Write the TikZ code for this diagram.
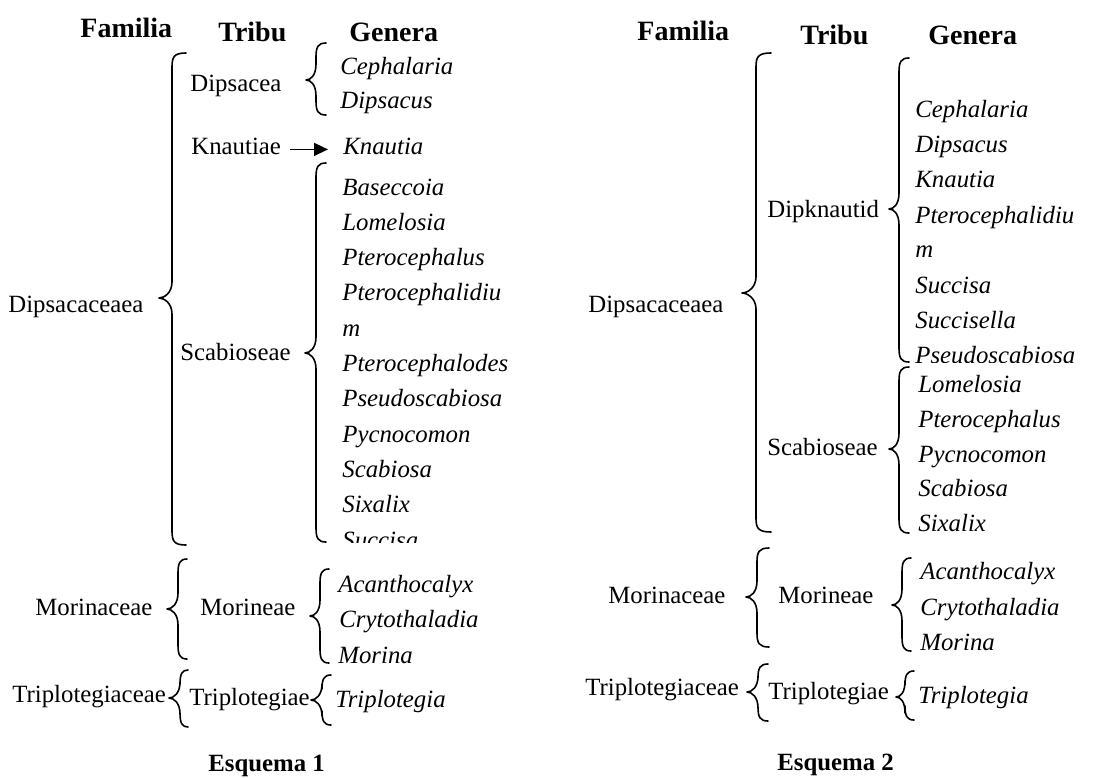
\documentclass[tikz,border=0pt]{standalone}
\usepackage{fontspec}
\setmainfont{Liberation Serif}
\usetikzlibrary{arrows.meta}
\tikzset{
  lbl/.style={inner sep=0pt, anchor=base west, font=\fontsize{12.4}{15}\selectfont},
  gen/.style={inner sep=0pt, anchor=base west, font=\fontsize{12.4}{15}\selectfont\itshape},
  hdr/.style={inner sep=0pt, anchor=base west, font=\fontsize{14}{17}\selectfont\bfseries},
  captionlbl/.style={inner sep=0pt, anchor=base west, font=\fontsize{12.4}{15}\selectfont\bfseries},
  bracestyle/.style={draw=black, line width=0.8pt, line cap=round, line join=round},
  arr/.style={draw=black, line width=0.8pt, -{Triangle[length=7pt,width=6.5pt]}}
}
% xe xv xt yt ym yb
\newcommand\mybrace[6]{%
  \draw[bracestyle] (#1,#4) .. controls (#2+2,#4) and (#2,#4+4) .. (#2,#4+14) -- (#2,#5-16)
    .. controls (#2,#5-5) and (#3+5,#5) .. (#3,#5) .. controls (#3+5,#5) and (#2,#5+5) .. (#2,#5+16)
    -- (#2,#6-14) .. controls (#2,#6-4) and (#2+2,#6) .. (#1,#6);}
\begin{document}
\begin{tikzpicture}[x=0.5pt,y=-0.5pt]
\useasboundingbox (0,0) rectangle (1103,777);
% ---------------- Esquema 1 ----------------
\node[hdr] (famL) at (80,37) {Familia};
\node[hdr] (triL) at (218,41) {Tribu};
\node[hdr] (genL) at (349,41) {Genera};

\node[lbl] (dipsacaceaeaL) at (8,312) {Dipsacaceaea};
\node[lbl] (dipsacea) at (190,91) {Dipsacea};
\node[lbl] (knautiae) at (191,154) {Knautiae};
\node[lbl] (scabL) at (180,360) {Scabioseae};
\node[lbl] (morinaceaeL) at (35,615) {Morinaceae};
\node[lbl] (morineaeL) at (200,615) {Morineae};
\node[lbl] (triplotegiaceaeL) at (12,702) {Triplotegiaceae};
\node[lbl] (triplotegiaeL) at (189,705) {Triplotegiae};

\node[gen] (cephL) at (340,74) {Cephalaria};
\node[gen] (dipsL) at (340,108) {Dipsacus};
\node[gen] (knautiaL) at (343,154) {Knautia};
\node[gen] (g1) at (342,195) {Baseccoia};
\node[gen] (g2) at (342,230.3) {Lomelosia};
\node[gen] (g3) at (342,265.6) {Pterocephalus};
\node[gen] (g4) at (342,300.9) {Pterocephalidiu};
\node[gen] (g5) at (342,336.2) {m};
\node[gen] (g6) at (342,371.5) {Pterocephalodes};
\node[gen] (g7) at (342,406.8) {Pseudoscabiosa};
\node[gen] (g8) at (342,442.1) {Pycnocomon};
\node[gen] (g9) at (342,477.4) {Scabiosa};
\node[gen] (g10) at (342,512.7) {Sixalix};
\begin{scope}
  \clip (330,520) rectangle (540,542);
  \node[gen] (g11) at (342,548) {Succisa};
\end{scope}
\node[gen] (acL) at (338,592) {Acanthocalyx};
\node[gen] (crL) at (339,627) {Crytothaladia};
\node[gen] (moL) at (338,663) {Morina};
\node[gen] (trL) at (335,707) {Triplotegia};
\node[captionlbl] (esq1) at (208,771) {Esquema 1};

\draw[arr, shorten <=4.5pt, shorten >=7.5pt] (knautiae.mid east) -- (knautiaL.mid west);

\mybrace{186}{172}{159}{53}{298}{545}
\mybrace{326}{316}{306}{43}{80}{115}
\mybrace{326}{316}{305}{163}{353}{542}
\mybrace{187}{178}{167}{559}{609}{659}
\mybrace{329}{320}{310}{569}{616}{663}
\mybrace{188}{180}{169}{670}{698}{727}
\mybrace{331}{322}{311}{675}{700}{725}

% ---------------- Esquema 2 ----------------
\node[hdr] (famR) at (637,40) {Familia};
\node[hdr] (triR) at (800,44) {Tribu};
\node[hdr] (genR) at (928,44) {Genera};

\node[lbl] (dipsacaceaeaR) at (588,312) {Dipsacaceaea};
\node[lbl] (dipknautid) at (767,217) {Dipknautid};
\node[lbl] (scabR) at (767,455) {Scabioseae};
\node[lbl] (morinaceaeR) at (608,603) {Morinaceae};
\node[lbl] (morineaeR) at (778,603) {Morineae};
\node[lbl] (triplotegiaceaeR) at (585,695) {Triplotegiaceae};
\node[lbl] (triplotegiaeR) at (768,699) {Triplotegiae};

\node[gen] (h1) at (915,117) {Cephalaria};
\node[gen] (h2) at (915,152) {Dipsacus};
\node[gen] (h3) at (915,187) {Knautia};
\node[gen] (h4) at (915,223) {Pterocephalidiu};
\node[gen] (h5) at (915,257) {m};
\node[gen] (h6) at (915,293) {Succisa};
\node[gen] (h7) at (915,328) {Succisella};
\begin{scope}
  \clip (905,335) rectangle (1103,362);
  \node[gen] (h8) at (915,363) {Pseudoscabiosa};
\end{scope}
\node[gen] (s1) at (918,392) {Lomelosia};
\node[gen] (s2) at (918,427) {Pterocephalus};
\node[gen] (s3) at (918,462) {Pycnocomon};
\node[gen] (s4) at (918,496) {Scabiosa};
\node[gen] (s5) at (918,531) {Sixalix};
\node[gen] (acR) at (920,579) {Acanthocalyx};
\node[gen] (crR) at (920,615) {Crytothaladia};
\node[gen] (moR) at (920,650) {Morina};
\node[gen] (trR) at (918,703) {Triplotegia};
\node[captionlbl] (esq2) at (777,770) {Esquema 2};

\mybrace{771}{756}{742}{53}{293}{532}
\mybrace{909}{899}{889}{58}{209}{362}
\mybrace{909}{899}{889}{367}{449}{533}
\mybrace{769}{757}{746}{548}{597}{647}
\mybrace{911}{902}{892}{558}{605}{651}
\mybrace{768}{758}{747}{664}{692}{721}
\mybrace{914}{905}{896}{671}{697}{720}
\end{tikzpicture}
\end{document}
